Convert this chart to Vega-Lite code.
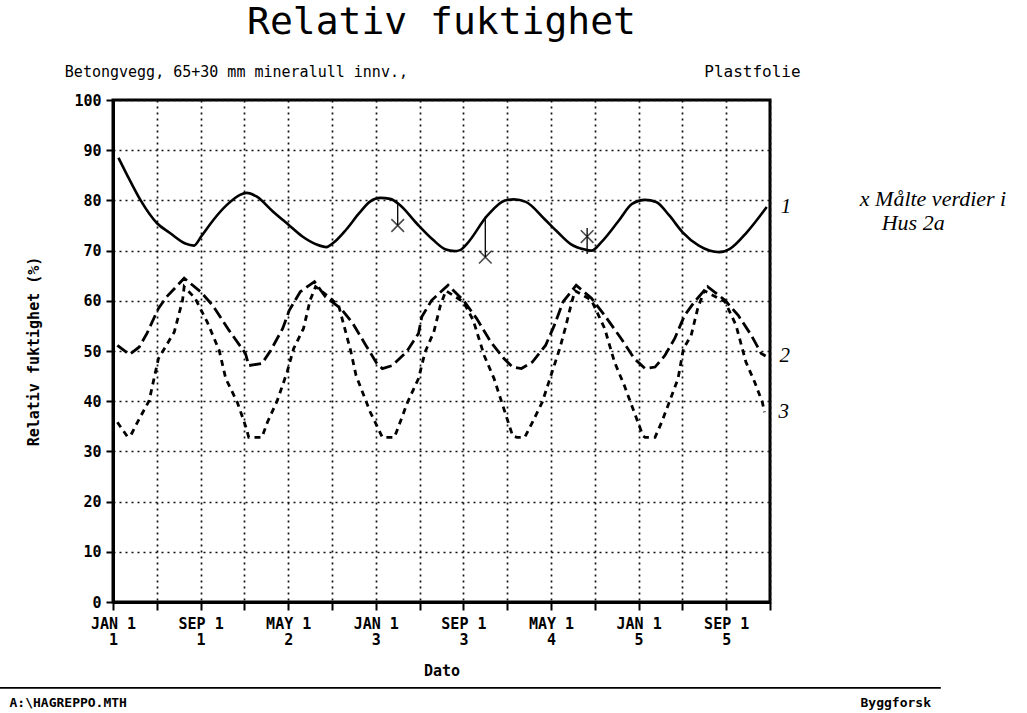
{
  "$schema": "https://vega.github.io/schema/vega-lite/v6.json",
  "width": 657,
  "height": 502,
  "autosize": {"type": "none"},
  "padding": {"left": 113, "top": 100, "right": 257, "bottom": 111},
  "background": "white",
  "config": {
    "view": {"stroke": "black", "strokeWidth": 3},
    "font": "DejaVu Sans Mono",
    "axis": {
      "domainColor": "black",
      "domainWidth": 3,
      "tickColor": "black",
      "tickWidth": 2,
      "grid": true,
      "gridColor": "#111111",
      "gridDash": [2, 4],
      "gridWidth": 1.7,
      "labelFont": "DejaVu Sans Mono",
      "labelFontWeight": "bold",
      "labelFontSize": 15,
      "labelColor": "black",
      "labelFlush": false,
      "labelOverlap": false,
      "labelBound": false,
      "titleFont": "DejaVu Sans Mono",
      "titleFontWeight": "bold",
      "titleFontSize": 15,
      "titleColor": "black"
    }
  },
  "datasets": {
    "kurver": [
      {"maaned": 0.5, "rf": 88.5, "kurve": "1"},
      {"maaned": 1.35, "rf": 84.8, "kurve": "1"},
      {"maaned": 2.5, "rf": 80.1, "kurve": "1"},
      {"maaned": 4.0, "rf": 75.5, "kurve": "1"},
      {"maaned": 5.2, "rf": 73.5, "kurve": "1"},
      {"maaned": 6.6, "rf": 71.4, "kurve": "1"},
      {"maaned": 7.4, "rf": 71.0, "kurve": "1"},
      {"maaned": 8.05, "rf": 72.8, "kurve": "1"},
      {"maaned": 9.2, "rf": 76.2, "kurve": "1"},
      {"maaned": 10.4, "rf": 79.1, "kurve": "1"},
      {"maaned": 11.6, "rf": 81.1, "kurve": "1"},
      {"maaned": 12.2, "rf": 81.5, "kurve": "1"},
      {"maaned": 13.1, "rf": 80.8, "kurve": "1"},
      {"maaned": 14.6, "rf": 77.8, "kurve": "1"},
      {"maaned": 16.0, "rf": 75.2, "kurve": "1"},
      {"maaned": 17.3, "rf": 72.8, "kurve": "1"},
      {"maaned": 18.6, "rf": 71.2, "kurve": "1"},
      {"maaned": 19.5, "rf": 70.7, "kurve": "1"},
      {"maaned": 20.1, "rf": 71.5, "kurve": "1"},
      {"maaned": 21.3, "rf": 74.2, "kurve": "1"},
      {"maaned": 22.5, "rf": 77.5, "kurve": "1"},
      {"maaned": 23.5, "rf": 79.8, "kurve": "1"},
      {"maaned": 24.4, "rf": 80.5, "kurve": "1"},
      {"maaned": 25.3, "rf": 80.3, "kurve": "1"},
      {"maaned": 26.2, "rf": 79.1, "kurve": "1"},
      {"maaned": 27.7, "rf": 75.5, "kurve": "1"},
      {"maaned": 29.2, "rf": 72.2, "kurve": "1"},
      {"maaned": 30.4, "rf": 70.2, "kurve": "1"},
      {"maaned": 31.2, "rf": 69.9, "kurve": "1"},
      {"maaned": 31.7, "rf": 70.1, "kurve": "1"},
      {"maaned": 32.3, "rf": 71.3, "kurve": "1"},
      {"maaned": 34.2, "rf": 77.0, "kurve": "1"},
      {"maaned": 35.8, "rf": 80.0, "kurve": "1"},
      {"maaned": 36.6, "rf": 80.2, "kurve": "1"},
      {"maaned": 37.7, "rf": 79.7, "kurve": "1"},
      {"maaned": 39.4, "rf": 76.3, "kurve": "1"},
      {"maaned": 40.6, "rf": 73.7, "kurve": "1"},
      {"maaned": 41.8, "rf": 71.3, "kurve": "1"},
      {"maaned": 43.1, "rf": 70.2, "kurve": "1"},
      {"maaned": 43.7, "rf": 70.0, "kurve": "1"},
      {"maaned": 44.6, "rf": 71.7, "kurve": "1"},
      {"maaned": 46.2, "rf": 76.0, "kurve": "1"},
      {"maaned": 47.4, "rf": 79.3, "kurve": "1"},
      {"maaned": 48.6, "rf": 80.1, "kurve": "1"},
      {"maaned": 49.6, "rf": 79.7, "kurve": "1"},
      {"maaned": 50.8, "rf": 77.0, "kurve": "1"},
      {"maaned": 52.0, "rf": 73.7, "kurve": "1"},
      {"maaned": 53.5, "rf": 71.0, "kurve": "1"},
      {"maaned": 55.4, "rf": 69.7, "kurve": "1"},
      {"maaned": 56.3, "rf": 70.3, "kurve": "1"},
      {"maaned": 57.9, "rf": 73.7, "kurve": "1"},
      {"maaned": 59.7, "rf": 78.7, "kurve": "1"},

      {"maaned": 0.4, "rf": 51.1, "kurve": "2"},
      {"maaned": 1.5, "rf": 49.3, "kurve": "2"},
      {"maaned": 2.4, "rf": 50.8, "kurve": "2"},
      {"maaned": 3.1, "rf": 53.5, "kurve": "2"},
      {"maaned": 4.15, "rf": 58.5, "kurve": "2"},
      {"maaned": 4.9, "rf": 60.8, "kurve": "2"},
      {"maaned": 6.5, "rf": 64.5, "kurve": "2"},
      {"maaned": 8.0, "rf": 61.8, "kurve": "2"},
      {"maaned": 9.1, "rf": 59.1, "kurve": "2"},
      {"maaned": 10.6, "rf": 54.1, "kurve": "2"},
      {"maaned": 12.1, "rf": 49.5, "kurve": "2"},
      {"maaned": 12.4, "rf": 47.1, "kurve": "2"},
      {"maaned": 13.6, "rf": 47.5, "kurve": "2"},
      {"maaned": 14.4, "rf": 50.1, "kurve": "2"},
      {"maaned": 15.5, "rf": 54.5, "kurve": "2"},
      {"maaned": 16.1, "rf": 58.1, "kurve": "2"},
      {"maaned": 17.1, "rf": 61.8, "kurve": "2"},
      {"maaned": 18.4, "rf": 63.8, "kurve": "2"},
      {"maaned": 19.4, "rf": 60.8, "kurve": "2"},
      {"maaned": 20.8, "rf": 58.5, "kurve": "2"},
      {"maaned": 21.9, "rf": 55.5, "kurve": "2"},
      {"maaned": 23.1, "rf": 51.1, "kurve": "2"},
      {"maaned": 24.1, "rf": 47.5, "kurve": "2"},
      {"maaned": 24.6, "rf": 46.5, "kurve": "2"},
      {"maaned": 25.5, "rf": 47.1, "kurve": "2"},
      {"maaned": 26.8, "rf": 49.8, "kurve": "2"},
      {"maaned": 27.9, "rf": 53.5, "kurve": "2"},
      {"maaned": 28.2, "rf": 56.8, "kurve": "2"},
      {"maaned": 29.1, "rf": 60.1, "kurve": "2"},
      {"maaned": 30.6, "rf": 63.1, "kurve": "2"},
      {"maaned": 32.0, "rf": 60.1, "kurve": "2"},
      {"maaned": 33.2, "rf": 56.5, "kurve": "2"},
      {"maaned": 34.5, "rf": 51.8, "kurve": "2"},
      {"maaned": 35.7, "rf": 48.5, "kurve": "2"},
      {"maaned": 36.5, "rf": 46.8, "kurve": "2"},
      {"maaned": 37.3, "rf": 46.5, "kurve": "2"},
      {"maaned": 38.3, "rf": 47.8, "kurve": "2"},
      {"maaned": 39.5, "rf": 51.1, "kurve": "2"},
      {"maaned": 40.3, "rf": 55.1, "kurve": "2"},
      {"maaned": 41.1, "rf": 59.8, "kurve": "2"},
      {"maaned": 42.3, "rf": 63.1, "kurve": "2"},
      {"maaned": 43.7, "rf": 60.5, "kurve": "2"},
      {"maaned": 44.9, "rf": 57.1, "kurve": "2"},
      {"maaned": 46.4, "rf": 52.5, "kurve": "2"},
      {"maaned": 47.6, "rf": 48.5, "kurve": "2"},
      {"maaned": 48.6, "rf": 46.5, "kurve": "2"},
      {"maaned": 49.5, "rf": 46.8, "kurve": "2"},
      {"maaned": 50.4, "rf": 49.1, "kurve": "2"},
      {"maaned": 51.3, "rf": 52.5, "kurve": "2"},
      {"maaned": 52.2, "rf": 57.1, "kurve": "2"},
      {"maaned": 53.1, "rf": 59.8, "kurve": "2"},
      {"maaned": 54.3, "rf": 62.8, "kurve": "2"},
      {"maaned": 55.9, "rf": 60.1, "kurve": "2"},
      {"maaned": 57.1, "rf": 57.1, "kurve": "2"},
      {"maaned": 58.3, "rf": 53.1, "kurve": "2"},
      {"maaned": 59.2, "rf": 49.5, "kurve": "2"},
      {"maaned": 59.6, "rf": 49.0, "kurve": "2"},

      {"maaned": 0.4, "rf": 35.8, "kurve": "3"},
      {"maaned": 1.3, "rf": 33.0, "kurve": "3"},
      {"maaned": 1.6, "rf": 33.1, "kurve": "3"},
      {"maaned": 2.4, "rf": 36.5, "kurve": "3"},
      {"maaned": 3.3, "rf": 40.1, "kurve": "3"},
      {"maaned": 4.15, "rf": 48.5, "kurve": "3"},
      {"maaned": 4.7, "rf": 50.5, "kurve": "3"},
      {"maaned": 5.6, "rf": 53.8, "kurve": "3"},
      {"maaned": 6.35, "rf": 60.1, "kurve": "3"},
      {"maaned": 6.5, "rf": 62.8, "kurve": "3"},
      {"maaned": 7.5, "rf": 60.5, "kurve": "3"},
      {"maaned": 8.6, "rf": 55.8, "kurve": "3"},
      {"maaned": 9.7, "rf": 50.1, "kurve": "3"},
      {"maaned": 10.3, "rf": 44.5, "kurve": "3"},
      {"maaned": 11.35, "rf": 39.8, "kurve": "3"},
      {"maaned": 12.1, "rf": 35.1, "kurve": "3"},
      {"maaned": 12.4, "rf": 32.8, "kurve": "3"},
      {"maaned": 13.6, "rf": 32.8, "kurve": "3"},
      {"maaned": 14.1, "rf": 35.8, "kurve": "3"},
      {"maaned": 15.0, "rf": 40.1, "kurve": "3"},
      {"maaned": 15.9, "rf": 45.8, "kurve": "3"},
      {"maaned": 16.5, "rf": 50.5, "kurve": "3"},
      {"maaned": 17.4, "rf": 54.5, "kurve": "3"},
      {"maaned": 18.0, "rf": 60.1, "kurve": "3"},
      {"maaned": 18.5, "rf": 62.8, "kurve": "3"},
      {"maaned": 19.3, "rf": 61.5, "kurve": "3"},
      {"maaned": 20.6, "rf": 59.1, "kurve": "3"},
      {"maaned": 21.7, "rf": 50.1, "kurve": "3"},
      {"maaned": 22.2, "rf": 45.1, "kurve": "3"},
      {"maaned": 23.5, "rf": 37.8, "kurve": "3"},
      {"maaned": 24.1, "rf": 35.1, "kurve": "3"},
      {"maaned": 24.6, "rf": 32.8, "kurve": "3"},
      {"maaned": 25.7, "rf": 32.8, "kurve": "3"},
      {"maaned": 26.1, "rf": 35.1, "kurve": "3"},
      {"maaned": 26.9, "rf": 39.8, "kurve": "3"},
      {"maaned": 27.9, "rf": 44.5, "kurve": "3"},
      {"maaned": 28.5, "rf": 49.8, "kurve": "3"},
      {"maaned": 29.3, "rf": 53.8, "kurve": "3"},
      {"maaned": 29.9, "rf": 59.1, "kurve": "3"},
      {"maaned": 30.4, "rf": 62.0, "kurve": "3"},
      {"maaned": 32.0, "rf": 59.8, "kurve": "3"},
      {"maaned": 32.9, "rf": 56.1, "kurve": "3"},
      {"maaned": 33.9, "rf": 49.1, "kurve": "3"},
      {"maaned": 34.8, "rf": 44.5, "kurve": "3"},
      {"maaned": 35.9, "rf": 37.1, "kurve": "3"},
      {"maaned": 36.5, "rf": 33.1, "kurve": "3"},
      {"maaned": 36.9, "rf": 32.8, "kurve": "3"},
      {"maaned": 37.6, "rf": 32.8, "kurve": "3"},
      {"maaned": 38.3, "rf": 35.8, "kurve": "3"},
      {"maaned": 39.2, "rf": 39.8, "kurve": "3"},
      {"maaned": 39.8, "rf": 43.8, "kurve": "3"},
      {"maaned": 40.8, "rf": 50.5, "kurve": "3"},
      {"maaned": 41.3, "rf": 54.5, "kurve": "3"},
      {"maaned": 41.9, "rf": 59.8, "kurve": "3"},
      {"maaned": 42.2, "rf": 62.0, "kurve": "3"},
      {"maaned": 43.7, "rf": 60.1, "kurve": "3"},
      {"maaned": 44.9, "rf": 54.5, "kurve": "3"},
      {"maaned": 45.8, "rf": 47.8, "kurve": "3"},
      {"maaned": 46.7, "rf": 43.1, "kurve": "3"},
      {"maaned": 47.6, "rf": 37.8, "kurve": "3"},
      {"maaned": 48.4, "rf": 33.1, "kurve": "3"},
      {"maaned": 48.6, "rf": 32.8, "kurve": "3"},
      {"maaned": 49.5, "rf": 32.8, "kurve": "3"},
      {"maaned": 50.1, "rf": 35.8, "kurve": "3"},
      {"maaned": 50.8, "rf": 39.8, "kurve": "3"},
      {"maaned": 51.6, "rf": 44.5, "kurve": "3"},
      {"maaned": 52.1, "rf": 50.5, "kurve": "3"},
      {"maaned": 52.8, "rf": 53.1, "kurve": "3"},
      {"maaned": 53.4, "rf": 58.5, "kurve": "3"},
      {"maaned": 54.0, "rf": 62.0, "kurve": "3"},
      {"maaned": 55.9, "rf": 59.8, "kurve": "3"},
      {"maaned": 56.9, "rf": 55.1, "kurve": "3"},
      {"maaned": 57.8, "rf": 47.8, "kurve": "3"},
      {"maaned": 58.6, "rf": 43.8, "kurve": "3"},
      {"maaned": 59.3, "rf": 39.8, "kurve": "3"},
      {"maaned": 59.5, "rf": 37.8, "kurve": "3"}
    ],
    "maalinger": [
      {"maaned": 26.0, "rf": 75.0, "rf_kurve": 79.3},
      {"maaned": 34.0, "rf": 68.7, "rf_kurve": 76.8},
      {"maaned": 43.3, "rf": 72.8, "rf_kurve": 74.5, "rf_nedre": 69.3}
    ]
  },
  "layer": [
    {
      "data": {"name": "kurver"},
      "transform": [{"filter": "datum.kurve == '1'"}],
      "mark": {"type": "line", "color": "black", "strokeWidth": 2.6, "interpolate": "monotone"},
      "encoding": {
        "x": {
          "field": "maaned",
          "type": "quantitative",
          "scale": {"domain": [0, 60], "nice": false, "zero": false},
          "axis": {
            "title": "Dato",
            "values": [0, 4, 8, 12, 16, 20, 24, 28, 32, 36, 40, 44, 48, 52, 56, 60],
            "labelExpr": "datum.value % 8 == 0 ? [['JAN','MAY','SEP'][(datum.value % 12) / 4] + ' 1', '' + (floor(datum.value / 12) + 1)] : ''",
            "labelLineHeight": 16,
            "tickSize": 8,
            "labelPadding": 6,
            "titlePadding": 16
          }
        },
        "y": {
          "field": "rf",
          "type": "quantitative",
          "scale": {"domain": [0, 100], "nice": false},
          "axis": {
            "title": "Relativ fuktighet (%)",
            "values": [0, 10, 20, 30, 40, 50, 60, 70, 80, 90, 100],
            "tickSize": 7,
            "labelPadding": 5,
            "titlePadding": 32
          }
        }
      }
    },
    {
      "data": {"name": "kurver"},
      "transform": [{"filter": "datum.kurve != '1'"}],
      "mark": {"type": "line", "color": "black", "strokeWidth": 2.8, "interpolate": "linear"},
      "encoding": {
        "x": {"field": "maaned", "type": "quantitative"},
        "y": {"field": "rf", "type": "quantitative"},
        "detail": {"field": "kurve"},
        "strokeDash": {
          "field": "kurve",
          "type": "nominal",
          "scale": {"domain": ["2", "3"], "range": [[12, 5], [6, 5]]},
          "legend": null
        }
      }
    },
    {
      "data": {"name": "kurver"},
      "transform": [{"filter": "datum.maaned >= 59.5"}],
      "mark": {"type": "text", "font": "Liberation Serif", "fontStyle": "italic", "fontSize": 21, "align": "left", "baseline": "middle", "dx": 14, "color": "black"},
      "encoding": {
        "x": {"field": "maaned", "type": "quantitative"},
        "y": {"field": "rf", "type": "quantitative"},
        "text": {"field": "kurve"}
      }
    },
    {
      "data": {"name": "maalinger"},
      "mark": {"type": "rule", "color": "black", "strokeWidth": 1.3},
      "encoding": {
        "x": {"field": "maaned", "type": "quantitative"},
        "y": {"field": "rf_kurve", "type": "quantitative"},
        "y2": {"field": "rf"}
      }
    },
    {
      "data": {"name": "maalinger"},
      "transform": [{"filter": "isValid(datum.rf_nedre)"}],
      "mark": {"type": "rule", "color": "black", "strokeWidth": 1.3},
      "encoding": {
        "x": {"field": "maaned", "type": "quantitative"},
        "y": {"field": "rf", "type": "quantitative"},
        "y2": {"field": "rf_nedre"}
      }
    },
    {
      "data": {"name": "maalinger"},
      "mark": {"type": "point", "shape": "M-1,-1L1,1M-1,1L1,-1", "size": 160, "filled": false, "color": "black", "strokeWidth": 1.6},
      "encoding": {
        "x": {"field": "maaned", "type": "quantitative"},
        "y": {"field": "rf", "type": "quantitative"}
      }
    },
    {
      "data": {"values": [{}]},
      "mark": {"type": "text", "font": "DejaVu Sans Mono", "fontSize": 38, "align": "center", "baseline": "middle", "color": "black"},
      "encoding": {
        "x": {"datum": 30},
        "y": {"datum": 115.3},
        "text": {"value": "Relativ fuktighet"}
      }
    },
    {
      "data": {"values": [{}]},
      "mark": {"type": "text", "font": "DejaVu Sans Mono", "fontSize": 15, "align": "left", "baseline": "middle", "color": "black"},
      "encoding": {
        "x": {"datum": -4.4},
        "y": {"datum": 105.6},
        "text": {"value": "Betongvegg, 65+30 mm mineralull innv.,"}
      }
    },
    {
      "data": {"values": [{}]},
      "mark": {"type": "text", "font": "DejaVu Sans Mono", "fontSize": 16, "align": "left", "baseline": "middle", "color": "black"},
      "encoding": {
        "x": {"datum": 54.0},
        "y": {"datum": 105.6},
        "text": {"value": "Plastfolie"}
      }
    },
    {
      "data": {"values": [{}]},
      "mark": {"type": "text", "font": "Liberation Serif", "fontStyle": "italic", "fontSize": 22, "align": "left", "baseline": "middle", "color": "black"},
      "encoding": {
        "x": {"datum": 68.2},
        "y": {"datum": 80.2},
        "text": {"value": "x Målte verdier i"}
      }
    },
    {
      "data": {"values": [{}]},
      "mark": {"type": "text", "font": "Liberation Serif", "fontStyle": "italic", "fontSize": 22, "align": "left", "baseline": "middle", "color": "black"},
      "encoding": {
        "x": {"datum": 70.2},
        "y": {"datum": 75.4},
        "text": {"value": "Hus 2a"}
      }
    },
    {
      "data": {"values": [{}]},
      "mark": {"type": "rule", "color": "black", "strokeWidth": 1.6},
      "encoding": {
        "x": {"datum": -10.4},
        "x2": {"datum": 75.6},
        "y": {"datum": -17.1}
      }
    },
    {
      "data": {"values": [{}]},
      "mark": {"type": "text", "font": "DejaVu Sans Mono", "fontWeight": "bold", "fontSize": 13, "align": "left", "baseline": "middle", "color": "black"},
      "encoding": {
        "x": {"datum": -9.45},
        "y": {"datum": -20.1},
        "text": {"value": "A:\\HAGREPPO.MTH"}
      }
    },
    {
      "data": {"values": [{}]},
      "mark": {"type": "text", "font": "DejaVu Sans Mono", "fontWeight": "bold", "fontSize": 13, "align": "right", "baseline": "middle", "color": "black"},
      "encoding": {
        "x": {"datum": 74.7},
        "y": {"datum": -20.1},
        "text": {"value": "Byggforsk"}
      }
    }
  ]
}
